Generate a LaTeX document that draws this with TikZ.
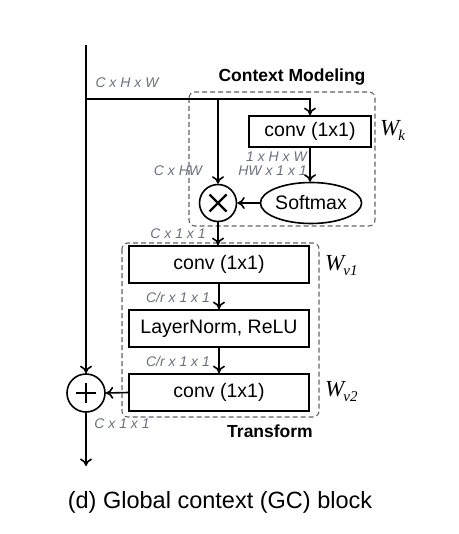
\documentclass[tikz,border=0pt]{standalone}
\usepackage{fontspec}
\setmainfont{Liberation Sans}
\newfontfamily\serifit{Liberation Serif Italic}
\usetikzlibrary{arrows.meta,shapes.geometric,calc}
\definecolor{lblgray}{RGB}{108,112,122}
\definecolor{dashgray}{RGB}{100,100,100}
\newcommand{\wsym}[1]{\fontsize{23}{24}\selectfont\serifit W\hspace{-1pt}\raisebox{-5pt}{\fontsize{15}{16}\selectfont\serifit #1}}
\begin{document}
\begin{tikzpicture}[x=1pt,y=-1pt,
  arr/.style={line width=1.6pt,-{To[length=7.5pt,width=12pt]}},
  ln/.style={line width=1.6pt},
  opbox/.style={draw,line width=1.8pt,minimum width=180pt,minimum height=37pt,inner sep=0pt,font=\fontsize{19.5}{22}\selectfont},
  opcirc/.style={draw,circle,line width=1.6pt,minimum size=37pt,inner sep=0pt},
  sym/.style={line width=2.4pt},
  dimlbl/.style={text=lblgray,font=\fontsize{14}{16}\selectfont\itshape,inner sep=0pt},
  grp/.style={draw=dashgray,dashed,dash pattern=on 5pt off 3pt,line width=1.1pt,rounded corners=6pt},
  grptitle/.style={font=\fontsize{17.5}{20}\selectfont\bfseries,inner sep=0pt},
  wlbl/.style={inner sep=0pt}]
\useasboundingbox (0,0) rectangle (458,534);
% group boxes
\draw[grp] (189,92) rectangle (375,226);
\draw[grp] (122,243) rectangle (319,417);
% nodes
\coordinate (top) at (86,45);
\coordinate (junc) at (86,99);
\coordinate (split) at (218,99);
\coordinate (bot) at (86,466);
\node[opbox,minimum width=122pt,minimum height=31pt] (wk) at (310,131.5) {conv (1x1)};
\node[draw,ellipse,line width=1.6pt,minimum width=92pt,minimum height=41pt,inner sep=0pt,font=\fontsize{19.5}{22}\selectfont] (sm) at (311,203) {Softmax};
\node[opcirc] (mul) at (218,203) {};
\node[opbox] (c1) at (219,264.5) {conv (1x1)};
\node[opbox] (lnr) at (219,328.5) {LayerNorm, ReLU};
\node[opbox] (c2) at (219,392.5) {conv (1x1)};
\node[opcirc,minimum size=38pt] (plus) at (86,393) {};
% operator symbols
\draw[sym] ($(mul)+(-8.5,-8.5)$) -- ($(mul)+(8.5,8.5)$);
\draw[sym] ($(mul)+(-8.5,8.5)$) -- ($(mul)+(8.5,-8.5)$);
\draw[sym] ($(plus)+(-10,0)$) -- ($(plus)+(10,0)$);
\draw[sym] ($(plus)+(0,-10)$) -- ($(plus)+(0,10)$);
% connectors
\draw[arr] (top) -- (plus.north);
\draw[ln] (junc) -- (split);
\draw[arr] (split) -| (wk.north);
\draw[arr] (split) -- (mul.north);
\draw[arr] (wk.south) -- (wk.south |- sm.north);
\draw[arr] (sm.west) -- (mul.east);
\draw[arr] (mul.south) -- (mul.south |- c1.north);
\draw[arr] (c1.south) -- (lnr.north);
\draw[arr] (lnr.south) -- (c2.north);
\draw[arr] (c2.west) -- (plus.east);
\draw[arr] (plus.south) -- (bot);
% labels
\node[dimlbl] (l1) at (127,83) {C x H x W};
\node[grptitle] (t1) at (292,77) {Context Modeling};
\node[wlbl,anchor=west] (wkl) at (380,130) {\wsym{k}};
\node[dimlbl,anchor=east] (l2) at (307,157) {1 x H x W};
\node[dimlbl,anchor=east] (l3) at (307,171) {HW x 1 x 1};
\node[dimlbl] (l4) at (178,171) {C x HW};
\node[dimlbl] (l5) at (178,234) {C x 1 x 1};
\node[dimlbl] (l6) at (178,297) {C/r x 1 x 1};
\node[dimlbl] (l7) at (178,361) {C/r x 1 x 1};
\node[dimlbl] (l8) at (122,424) {C x 1 x 1};
\node[grptitle] (t2) at (270,431) {Transform};
\node[wlbl,anchor=west] (wv1) at (325,266) {\wsym{v1}};
\node[wlbl,anchor=west] (wv2) at (325,392) {\wsym{v2}};
\node[inner sep=0pt,font=\fontsize{23.5}{26}\selectfont] (cap) at (220,502) {(d) Global context (GC) block};
\end{tikzpicture}
\end{document}
